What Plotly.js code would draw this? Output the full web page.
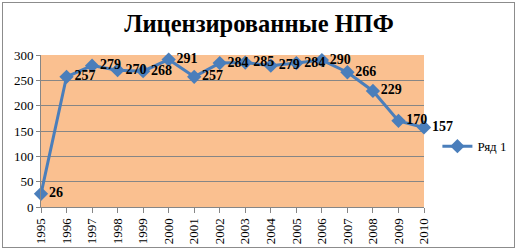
<!DOCTYPE html>
<html>
<head>
<meta charset="utf-8">
<script src="https://cdn.plot.ly/plotly-3.0.1.min.js"></script>
<style>
  html, body { margin: 0; padding: 0; background: #ffffff; }
  #wrap { position: relative; width: 517px; height: 250px; overflow: hidden; }
  #chart { position: absolute; left: 0; top: 0; width: 517px; height: 250px; }
  #frame { position: absolute; left: 2px; top: 2px; width: 511px; height: 244px; border: 1px solid #8c8c8c; pointer-events: none; }
</style>
</head>
<body>
<div id="wrap">
  <div id="chart"></div>
  <div id="frame"></div>
</div>
<script>
const years = ['1995','1996','1997','1998','1999','2000','2001','2002','2003','2004','2005','2006','2007','2008','2009','2010'];
const values = [26, 257, 279, 270, 268, 291, 257, 284, 285, 279, 284, 290, 266, 229, 170, 157];
const seriesName = 'Ряд 1';
const titleText = 'Лицензированные НПФ';
const yTicks = [0, 50, 100, 150, 200, 250, 300];

const xNum = years.map(Number);
const SERIF = '"Liberation Serif", "Times New Roman", "DejaVu Serif Condensed", "DejaVu Serif", serif';

const trace = {
  x: xNum,
  y: values,
  name: seriesName,
  type: 'scatter',
  mode: 'lines+markers+text',
  text: values.map(String),
  textposition: 'middle right',
  textfont: { family: SERIF, size: 14, color: '#000000', weight: 'bold' },
  line: { color: '#4A7EBB', width: 3 },
  marker: { symbol: 'diamond', size: 11, color: '#4A7EBB' },
  cliponaxis: false
};

const layout = {
  width: 517,
  height: 250,
  margin: { l: 41, r: 93, t: 55, b: 43, pad: 0, autoexpand: false },
  paper_bgcolor: '#ffffff',
  plot_bgcolor: '#FAC090',
  showlegend: true,
  title: {
    text: titleText,
    font: { family: SERIF, size: 24.5, color: '#000000', weight: 'bold' },
    x: 0.501, xref: 'container', xanchor: 'center',
    y: 0.905, yref: 'container', yanchor: 'middle',
    automargin: false
  },
  xaxis: {
    range: [1995, 2010],
    tickvals: xNum,
    ticktext: years,
    tickangle: -90,
    ticks: 'outside',
    ticklen: 5,
    tickcolor: '#868686',
    showgrid: false,
    zeroline: false,
    showline: true,
    linecolor: '#868686',
    linewidth: 1,
    automargin: false,
    tickfont: { family: SERIF, size: 13, color: '#000000' }
  },
  yaxis: {
    range: [0, 300],
    tickvals: yTicks,
    ticks: 'outside',
    ticklen: 4,
    tickcolor: '#868686',
    showgrid: true,
    gridcolor: '#868686',
    gridwidth: 1,
    zeroline: false,
    showline: true,
    linecolor: '#868686',
    linewidth: 1,
    automargin: false,
    tickfont: { family: SERIF, size: 13, color: '#000000' }
  },
  legend: {
    x: 1.035, xanchor: 'left',
    y: 0.40, yanchor: 'middle',
    bgcolor: 'rgba(0,0,0,0)',
    font: { family: SERIF, size: 13, color: '#000000' },
    itemwidth: 30
  }
};

Plotly.newPlot('chart', [trace], layout, { staticPlot: true, displayModeBar: false });
</script>
</body>
</html>
